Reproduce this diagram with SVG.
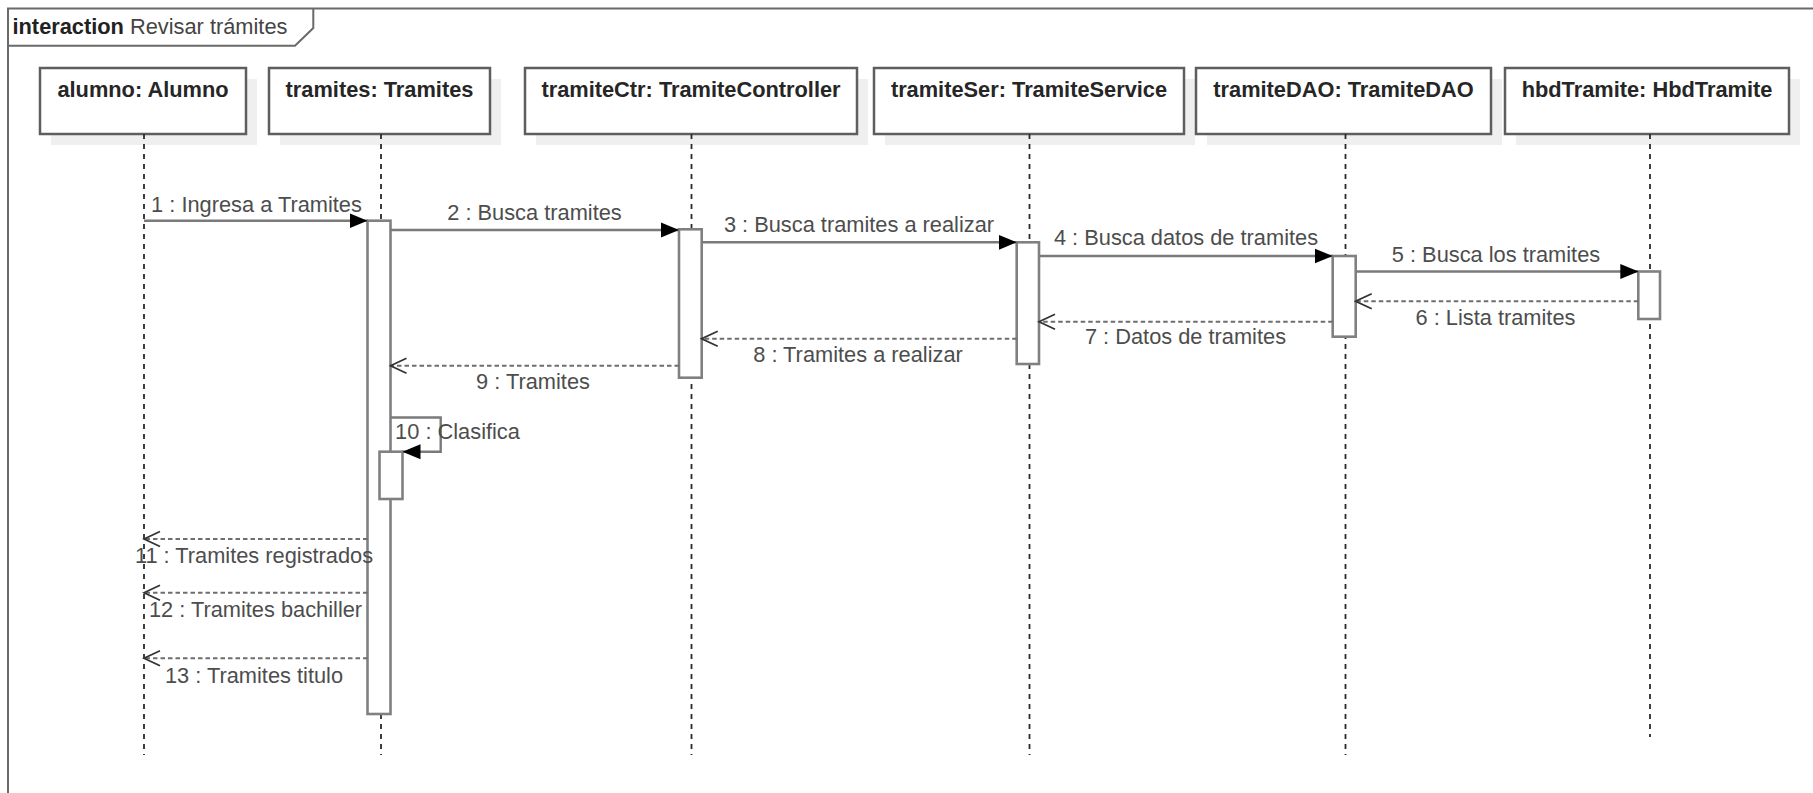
<svg xmlns="http://www.w3.org/2000/svg" width="1813" height="793" viewBox="0 0 1813 793">
<style>
text{font-family:"Liberation Sans",Arial,sans-serif;font-size:21.8px}
.lbl{fill:#4d4d4d;text-anchor:middle}
.nm{font-weight:bold;fill:#262626;text-anchor:middle}
.box{fill:#fff;stroke:#5e5e5e;stroke-width:2.5}
.sh{fill:#efefef}
.life{stroke:#2a2a2a;stroke-width:1.8;stroke-dasharray:5 5;fill:none}
.act{fill:#fff;stroke:#808080;stroke-width:2.6}
.call{stroke:#7a7a7a;stroke-width:2.4;fill:none;marker-end:url(#filled)}
.ret{stroke:#6e6e6e;stroke-width:2;stroke-dasharray:4.5 3;fill:none;marker-end:url(#open)}
</style>
<defs>
<marker id="filled" markerUnits="userSpaceOnUse" markerWidth="18" markerHeight="16" refX="18" refY="8" orient="auto"><path d="M0,0.5 L18,8 L0,15.5 Z" fill="#000"/></marker>
<marker id="open" markerUnits="userSpaceOnUse" markerWidth="19" markerHeight="19" refX="17" refY="9.5" orient="auto"><path d="M1,2 L17,9.5 L1,17" fill="none" stroke="#333" stroke-width="1.8"/></marker>
</defs>
<rect width="1813" height="793" fill="#fff"/>
<g id="frame">
<rect x="8" y="8.5" width="1900" height="1000" fill="none" stroke="#6a6a6a" stroke-width="2"/>
<path d="M8,45.7 H295 L313.3,28 V8.5" fill="none" stroke="#6a6a6a" stroke-width="2"/>
<text x="12.5" y="34.3"><tspan font-weight="bold" fill="#222">interaction</tspan><tspan fill="#444"> Revisar trámites</tspan></text>
</g>
<g id="alumno">
<rect class="sh" x="51" y="79" width="206" height="66"/>
<rect class="box" x="40" y="68" width="206" height="66"/>
<line class="life" x1="144" y1="134" x2="144" y2="755"/>
<text class="nm" x="143" y="96.7">alumno: Alumno</text>
</g>
<g id="tramites">
<rect class="sh" x="280" y="79" width="221" height="66"/>
<rect class="box" x="269" y="68" width="221" height="66"/>
<line class="life" x1="381" y1="134" x2="381" y2="755"/>
<text class="nm" x="379.5" y="96.7">tramites: Tramites</text>
<rect class="act" x="367.5" y="220.7" width="23" height="493.3"/>
<rect class="act" x="379.5" y="451.7" width="23" height="47.3"/>
</g>
<g id="tramiteCtr">
<rect class="sh" x="536" y="79" width="332" height="66"/>
<rect class="box" x="525" y="68" width="332" height="66"/>
<line class="life" x1="691.5" y1="134" x2="691.5" y2="755"/>
<text class="nm" x="691" y="96.7">tramiteCtr: TramiteController</text>
<rect class="act" x="679" y="229.3" width="22.7" height="148.4"/>
</g>
<g id="tramiteSer">
<rect class="sh" x="885" y="79" width="310" height="66"/>
<rect class="box" x="874" y="68" width="310" height="66"/>
<line class="life" x1="1029.5" y1="134" x2="1029.5" y2="755"/>
<text class="nm" x="1029" y="96.7">tramiteSer: TramiteService</text>
<rect class="act" x="1016.7" y="242.3" width="22.3" height="121.7"/>
</g>
<g id="tramiteDAO">
<rect class="sh" x="1207" y="79" width="295" height="66"/>
<rect class="box" x="1196" y="68" width="295" height="66"/>
<line class="life" x1="1345.5" y1="134" x2="1345.5" y2="755"/>
<text class="nm" x="1343.5" y="96.7">tramiteDAO: TramiteDAO</text>
<rect class="act" x="1332.7" y="256" width="23" height="80.7"/>
</g>
<g id="hbdTramite">
<rect class="sh" x="1516" y="79" width="284" height="66"/>
<rect class="box" x="1505" y="68" width="284" height="66"/>
<line class="life" x1="1650" y1="134" x2="1650" y2="737"/>
<text class="nm" x="1647" y="96.7">hbdTramite: HbdTramite</text>
<rect class="act" x="1638.3" y="271.5" width="21.7" height="47.5"/>
</g>
<g id="connectors">
<line class="call" x1="144" y1="220.7" x2="367.5" y2="220.7"/>
<text class="lbl" x="256.5" y="211.7">1 : Ingresa a Tramites</text>
<line class="call" x1="390.5" y1="230" x2="679" y2="230"/>
<text class="lbl" x="534.5" y="219.5">2 : Busca tramites</text>
<line class="call" x1="701.7" y1="242.3" x2="1016.7" y2="242.3"/>
<text class="lbl" x="859" y="232.3">3 : Busca tramites a realizar</text>
<line class="call" x1="1039" y1="256" x2="1332.7" y2="256"/>
<text class="lbl" x="1186" y="245.3">4 : Busca datos de tramites</text>
<line class="call" x1="1355.7" y1="271.5" x2="1638.3" y2="271.5"/>
<text class="lbl" x="1496" y="261.7">5 : Busca los tramites</text>
<line class="ret" x1="1638.3" y1="301.3" x2="1355.7" y2="301.3"/>
<text class="lbl" x="1495.5" y="325">6 : Lista tramites</text>
<line class="ret" x1="1332.7" y1="321.7" x2="1039" y2="321.7"/>
<text class="lbl" x="1185.5" y="344">7 : Datos de tramites</text>
<line class="ret" x1="1016.7" y1="338.7" x2="701.7" y2="338.7"/>
<text class="lbl" x="858" y="361.7">8 : Tramites a realizar</text>
<line class="ret" x1="679" y1="365.7" x2="390.5" y2="365.7"/>
<text class="lbl" x="533" y="389.3">9 : Tramites</text>
<path class="call" d="M390.5,417.5 H440.7 V451.7 H402.5"/>
<text class="lbl" x="457.5" y="439.3">10 : Clasifica</text>
<line class="ret" x1="367.5" y1="539" x2="144" y2="539"/>
<text class="lbl" x="254" y="563.3">11 : Tramites registrados</text>
<line class="ret" x1="367.5" y1="592.7" x2="144" y2="592.7"/>
<text class="lbl" x="255.5" y="617">12 : Tramites bachiller</text>
<line class="ret" x1="367.5" y1="658.3" x2="144" y2="658.3"/>
<text class="lbl" x="254" y="682.7">13 : Tramites titulo</text>
</g>
</svg>
